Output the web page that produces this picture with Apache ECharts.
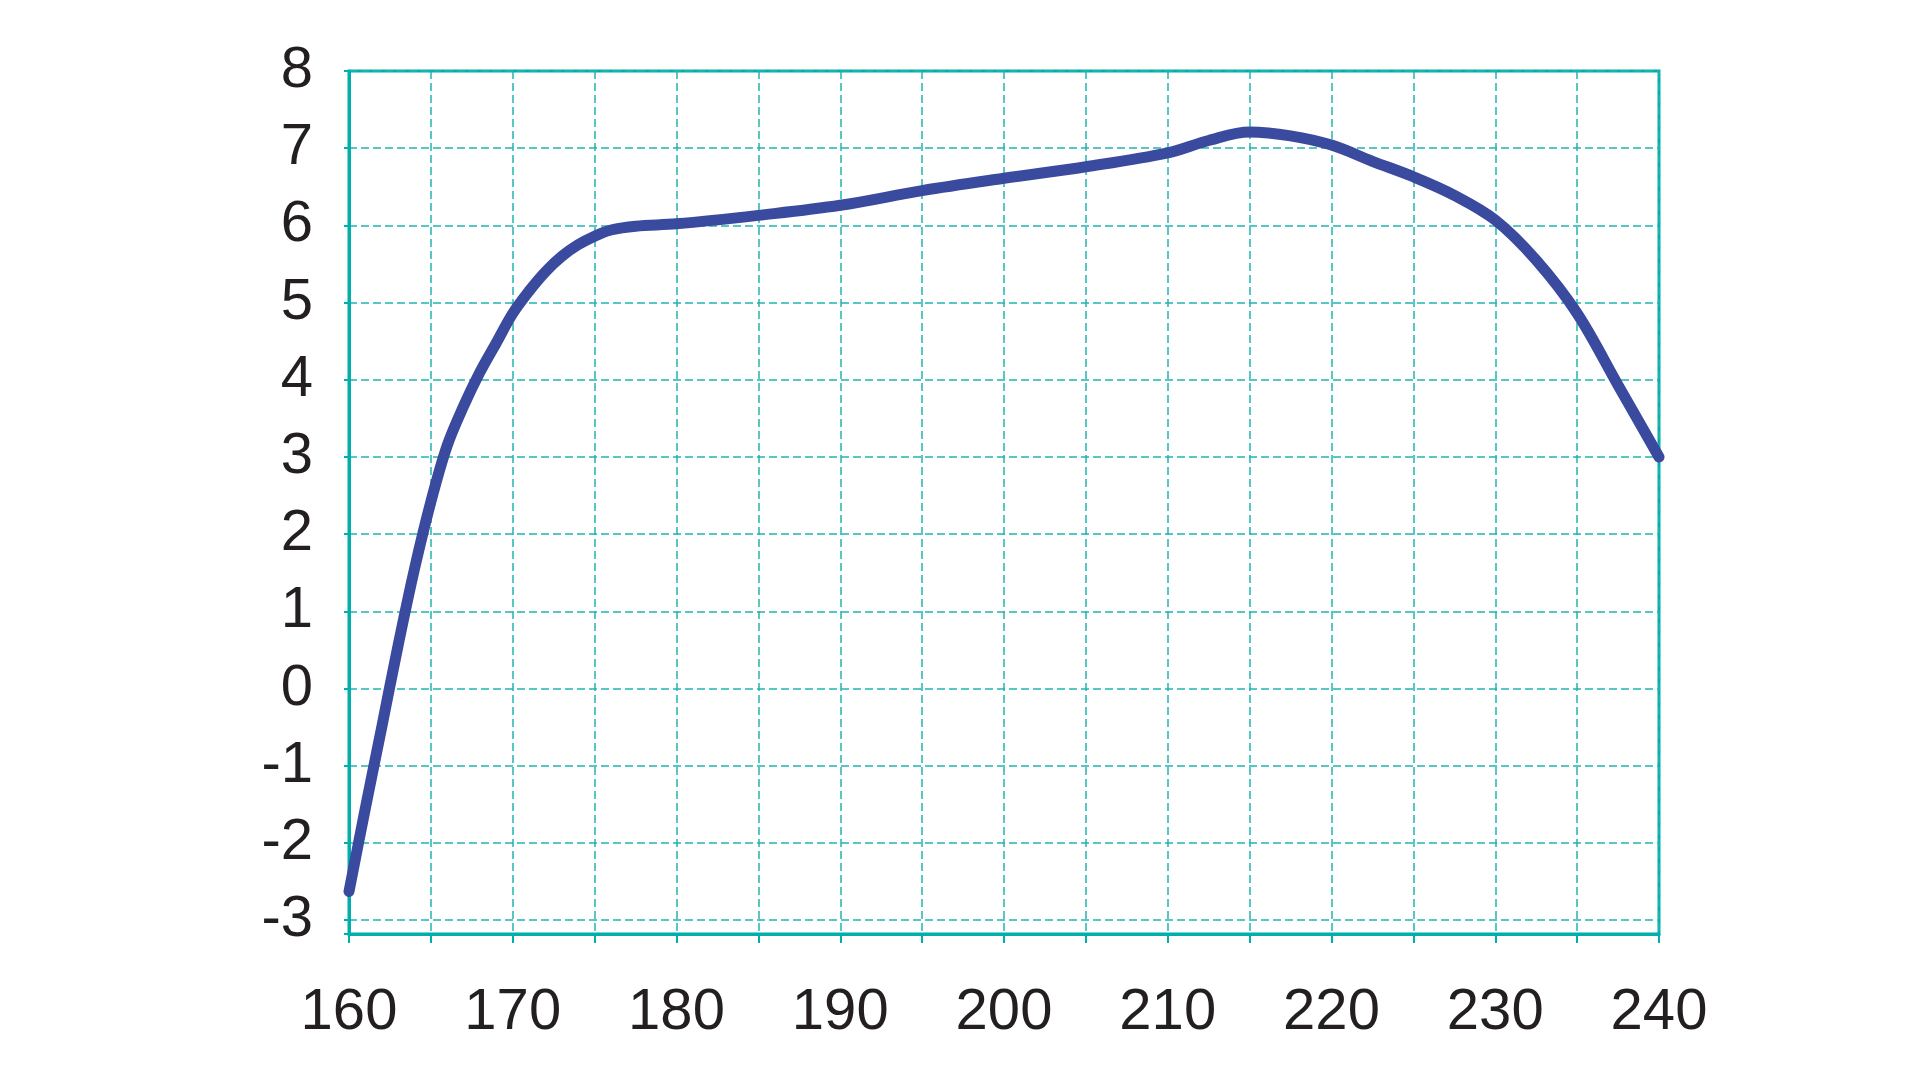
<!DOCTYPE html>
<html>
<head>
<meta charset="utf-8">
<title>curve</title>
<script src="https://cdn.jsdelivr.net/npm/echarts@6/dist/echarts.min.js"></script>
<style>
  html, body { margin: 0; padding: 0; background: #fff; }
  #chart { width: 1920px; height: 1080px; }
</style>
</head>
<body>
<div id="chart"></div>
<script>
// values
var xValues = [160, 161, 162, 163, 164, 165, 166, 167, 168, 169, 170, 171, 172, 173, 174, 175, 176, 177.5, 180,
  185, 190, 195, 200, 205, 210, 212.5, 215, 217.5, 220, 222.5, 225, 227.5, 230, 232.5, 235, 237.5, 240];
var yValues = [-2.63, -1.55, -0.5, 0.56, 1.55, 2.42, 3.15, 3.66, 4.1, 4.48, 4.86, 5.15, 5.4, 5.6, 5.75, 5.86, 5.94, 5.99, 6.02,
  6.13, 6.26, 6.45, 6.61, 6.76, 6.94, 7.10, 7.21, 7.16, 7.04, 6.83, 6.63, 6.39, 6.07, 5.55, 4.86, 3.93, 3.0];

var xMin = 160, xMax = 240, xStep = 5;
var yMin = -3.18, yMax = 8;

var teal = '#00AFAB';
var gridDash = '#22B4AF';
var textColor = '#231F20';

var points = xValues.map(function (x, i) { return [x, yValues[i]]; });

var chart = echarts.init(document.getElementById('chart'));
chart.setOption({
  animation: false,
  backgroundColor: '#ffffff',
  grid: {
    left: 349,
    right: 261,
    top: 71,
    bottom: 146,
    show: true,
    borderColor: teal,
    borderWidth: 3,
    containLabel: false
  },
  xAxis: {
    type: 'value',
    min: xMin,
    max: xMax,
    interval: xStep,
    axisLine: { show: true, onZero: false, lineStyle: { color: teal, width: 3 } },
    axisTick: { show: true, inside: false, length: 9, lineStyle: { color: teal, width: 2 } },
    axisLabel: {
      margin: 50,
      color: textColor,
      fontSize: 58,
      fontFamily: '"Liberation Sans", Arial, sans-serif',
      formatter: function (v) { return v % 10 === 0 ? String(v) : ''; }
    },
    splitLine: { show: true, lineStyle: { color: gridDash, width: 1.5, type: [8, 4] } }
  },
  yAxis: {
    type: 'value',
    min: yMin,
    max: yMax,
    splitNumber: 11,
    minInterval: 1,
    maxInterval: 1,
    axisLine: { show: true, onZero: false, lineStyle: { color: teal, width: 3 } },
    axisTick: { show: true, inside: false, length: 5, lineStyle: { color: teal, width: 2 } },
    axisLabel: {
      margin: 36,
      padding: [12, 0, 0, 0],
      color: textColor,
      fontSize: 58,
      fontFamily: '"Liberation Sans", Arial, sans-serif',
      formatter: function (v) { return Math.abs(v - Math.round(v)) < 1e-6 ? String(Math.round(v)) : ''; }
    },
    splitLine: { show: true, lineStyle: { color: gridDash, width: 1.5, type: [8, 4] } }
  },
  series: [{
    type: 'line',
    data: points,
    smooth: 0.35,
    showSymbol: false,
    symbol: 'none',
    lineStyle: { color: '#3A4A9F', width: 11, cap: 'round', join: 'round' },
    z: 5
  }]
});
</script>
</body>
</html>
